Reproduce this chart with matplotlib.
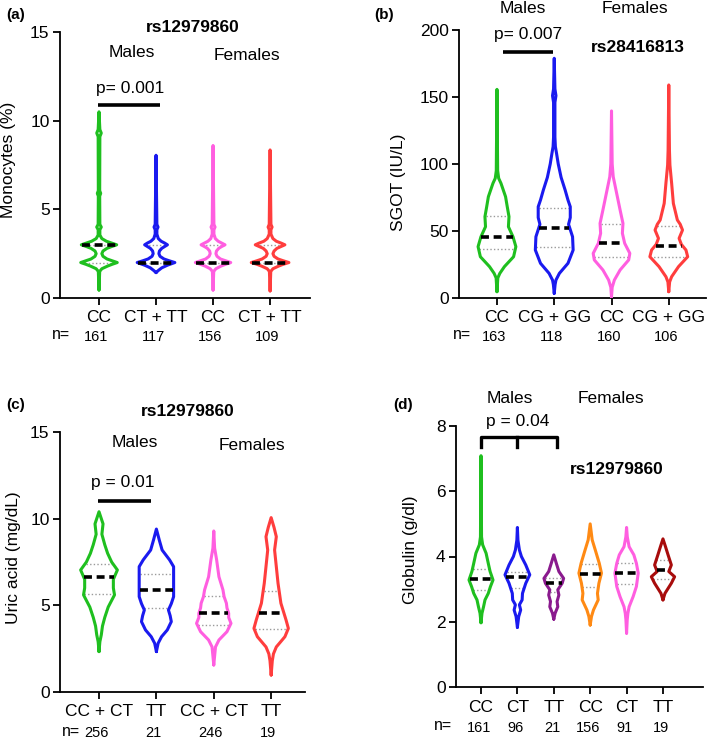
import numpy as np
import matplotlib
matplotlib.use("Agg")
from matplotlib import pyplot as plt

plt.rcParams["font.family"] = ["Liberation Sans", "DejaVu Sans"]

# ---- panel (a): monocytes, rs12979860 ----
a_labels = ["CC", "CT + TT", "CC", "CT + TT"]
a_n = [161, 117, 156, 109]
a_median = [3.0, 2.0, 2.0, 2.0]
a_q1 = [2.0, 2.0, 2.0, 2.0]
a_q3 = [3.0, 3.0, 3.0, 3.0]
a_profiles = [
    [(0.45, 0), (1.5, 0.012), (1.65, 0.05), (1.8, 0.15), (1.9, 0.23), (2.0, 0.32), (2.1, 0.23), (2.2, 0.14),
     (2.35, 0.07), (2.5, 0.05), (2.65, 0.07), (2.8, 0.14), (2.9, 0.22), (3.0, 0.31), (3.1, 0.22), (3.2, 0.13),
     (3.35, 0.05), (3.55, 0.015), (3.85, 0.015), (4.0, 0.04), (4.15, 0.015), (5.75, 0.012), (5.9, 0.03),
     (6.05, 0.012), (9.1, 0.015), (9.3, 0.04), (9.5, 0.015), (10.5, 0)],
    [(1.43, 0), (1.55, 0.04), (1.7, 0.1), (1.85, 0.2), (2.0, 0.33), (2.1, 0.23), (2.2, 0.14), (2.35, 0.07),
     (2.5, 0.05), (2.65, 0.06), (2.8, 0.1), (2.9, 0.15), (3.0, 0.2), (3.1, 0.15), (3.2, 0.09), (3.35, 0.04),
     (3.6, 0.015), (3.85, 0.015), (4.0, 0.035), (4.15, 0.015), (8.05, 0)],
    [(0.45, 0), (1.5, 0.012), (1.65, 0.05), (1.8, 0.14), (1.9, 0.22), (2.0, 0.31), (2.1, 0.22), (2.2, 0.13),
     (2.35, 0.07), (2.5, 0.05), (2.65, 0.06), (2.8, 0.1), (2.9, 0.15), (3.0, 0.21), (3.1, 0.15), (3.2, 0.09),
     (3.35, 0.04), (3.6, 0.015), (3.85, 0.015), (4.0, 0.035), (4.15, 0.015), (8.6, 0)],
    [(0.4, 0), (1.5, 0.012), (1.65, 0.05), (1.8, 0.15), (1.9, 0.23), (2.0, 0.33), (2.1, 0.23), (2.2, 0.14),
     (2.35, 0.07), (2.5, 0.05), (2.65, 0.07), (2.8, 0.12), (2.9, 0.19), (3.0, 0.26), (3.1, 0.19), (3.2, 0.11),
     (3.35, 0.05), (3.6, 0.015), (3.85, 0.015), (4.0, 0.035), (4.15, 0.015), (8.35, 0)],
]

# ---- panel (b): SGOT, rs28416813 ----
b_labels = ["CC", "CG + GG", "CC", "CG + GG"]
b_n = [163, 118, 160, 106]
b_median = [45.3, 52.0, 40.8, 39.1]
b_q1 = [36.8, 38.3, 30.8, 30.8]
b_q3 = [61.4, 66.9, 55.2, 53.7]
b_profiles = [
    [(4.7, 0), (15, 0.015), (18.4, 0.05), (23.4, 0.13), (30.8, 0.29), (38.3, 0.33), (45.7, 0.28), (53.2, 0.2),
     (60.7, 0.21), (68, 0.18), (75.6, 0.15), (85.6, 0.07), (89.3, 0.03), (95, 0.012), (155.7, 0)],
    [(3.5, 0), (10, 0.015), (13.4, 0.03), (18.4, 0.09), (25.9, 0.24), (35.8, 0.33), (45.7, 0.32), (55, 0.25),
     (60, 0.28), (68.1, 0.28), (73.1, 0.24), (80.6, 0.19), (90, 0.12), (100, 0.07), (108, 0.04), (113, 0.02),
     (120, 0.012), (146, 0.012), (151, 0.03), (156, 0.012), (178.9, 0)],
    [(1, 0), (8, 0.012), (13.4, 0.05), (20.9, 0.15), (28.4, 0.3), (33.3, 0.32), (40.8, 0.23), (48.3, 0.19),
     (55.7, 0.2), (65.7, 0.15), (78.1, 0.09), (90.5, 0.03), (100, 0.012), (139.6, 0)],
    [(4.7, 0), (12, 0.015), (15.9, 0.05), (23.4, 0.17), (30.8, 0.33), (35.8, 0.3), (40, 0.22), (44.5, 0.18),
     (50.7, 0.24), (55, 0.2), (58.2, 0.15), (70.6, 0.08), (85.6, 0.05), (99.3, 0.02), (110, 0.012), (159, 0)],
]

# ---- panel (c): uric acid, rs12979860 ----
c_labels = ["CC + CT", "TT", "CC + CT", "TT"]
c_n = [256, 21, 246, 19]
c_median = [6.64, 5.9, 4.54, 4.54]
c_q1 = [5.63, 4.83, 3.87, 3.63]
c_q3 = [7.4, 6.81, 5.54, 5.83]
c_profiles = [
    [(2.33, 0), (2.9, 0.015), (3.3, 0.04), (3.8, 0.06), (4.3, 0.1), (4.9, 0.16), (5.6, 0.27), (6.0, 0.25),
     (6.5, 0.25), (7.04, 0.32), (7.5, 0.22), (8.0, 0.15), (8.5, 0.1), (9.1, 0.05), (9.7, 0.07), (10.4, 0)],
    [(2.33, 0), (2.81, 0.03), (3.19, 0.09), (3.58, 0.19), (4.06, 0.26), (4.4, 0.24), (4.73, 0.21), (5.1, 0.26),
     (5.5, 0.3), (6.4, 0.3), (7.23, 0.3), (7.62, 0.23), (8.19, 0.1), (8.77, 0.05), (9.4, 0)],
    [(1.56, 0), (2.6, 0.03), (3.0, 0.09), (3.48, 0.23), (3.96, 0.3), (4.3, 0.26), (4.54, 0.26), (4.85, 0.23),
     (5.12, 0.22), (5.5, 0.18), (5.89, 0.16), (6.65, 0.09), (7.62, 0.05), (8.3, 0.015), (9.29, 0)],
    [(0.98, 0), (1.8, 0.02), (2.2, 0.04), (2.6, 0.09), (3.19, 0.24), (3.67, 0.3), (4.15, 0.26), (5.12, 0.17),
     (6.27, 0.12), (7.23, 0.09), (8.19, 0.06), (8.96, 0.09), (9.5, 0.05), (10.06, 0)],
]

# ---- panel (d): globulin, rs12979860 ----
d_labels = ["CC", "CT", "TT", "CC", "CT", "TT"]
d_n = [161, 96, 21, 156, 91, 19]
d_median = [3.32, 3.38, 3.18, 3.46, 3.49, 3.59]
d_q1 = [2.98, 3.04, 2.92, 3.08, 3.15, 3.3]
d_q3 = [3.63, 3.53, 3.35, 3.78, 3.81, 3.88]
d_profiles = [
    [(1.97, 0), (2.26, 0.027), (2.46, 0.07), (2.67, 0.11), (2.87, 0.2), (3.08, 0.26), (3.28, 0.33), (3.54, 0.25),
     (3.79, 0.2), (4.1, 0.14), (4.36, 0.045), (4.6, 0.015), (7.09, 0)],
    [(1.83, 0), (2.16, 0.036), (2.36, 0.09), (2.52, 0.055), (2.67, 0.13), (2.87, 0.14), (3.18, 0.23),
     (3.44, 0.34), (3.74, 0.23), (4.0, 0.11), (4.2, 0.055), (4.5, 0.015), (4.89, 0)],
    [(2.08, 0), (2.26, 0.036), (2.46, 0.11), (2.62, 0.09), (2.82, 0.14), (2.98, 0.11), (3.18, 0.23),
     (3.33, 0.27), (3.54, 0.14), (3.79, 0.07), (4.05, 0)],
    [(1.9, 0), (2.16, 0.036), (2.36, 0.09), (2.67, 0.22), (2.87, 0.2), (3.18, 0.24), (3.49, 0.31), (3.79, 0.25),
     (4.2, 0.14), (4.51, 0.055), (5.0, 0)],
    [(1.65, 0), (2.06, 0.018), (2.26, 0.036), (2.46, 0.07), (2.77, 0.18), (3.08, 0.27), (3.49, 0.32),
     (3.79, 0.27), (4.05, 0.2), (4.3, 0.07), (4.6, 0.02), (4.89, 0)],
    [(2.67, 0), (2.87, 0.055), (3.18, 0.23), (3.38, 0.32), (3.54, 0.16), (3.74, 0.23), (4.05, 0.14),
     (4.3, 0.07), (4.54, 0)],
]

GREEN, BLUE, PINK, RED = "#1fbf1f", "#1a1aef", "#ff5ee0", "#ff3d3d"
ORANGE, PURPLE, DARKRED = "#ff8a14", "#8a1a8e", "#a80c0c"
FS = 12.5


def draw_violin(ax, x, profile, color, med, q1, q3):
    prof = np.array(profile, dtype=float)
    ys, ws = prof[:, 0], prof[:, 1]
    xs = np.concatenate([x - ws, (x + ws)[::-1]])
    yy = np.concatenate([ys, ys[::-1]])
    ax.plot(xs, yy, color=color, lw=2.2, solid_joinstyle="round", solid_capstyle="round", zorder=3)
    for q in (q1, q3):
        w = np.interp(q, ys, ws) - 0.01
        ax.plot([x - w, x + w], [q, q], color="#9a9a9a", lw=1.0, ls=(0, (1, 1.6)), zorder=2)
    w = np.interp(med, ys, ws) - 0.01
    ax.plot([x - w, x + w], [med, med], color="black", lw=2.6, ls=(0, (2.2, 1.3)), zorder=4)


def setup(ax, labels, ncounts, nfrac, ypos_n, ticks, ylim, xlim):
    pos = np.arange(1, len(labels) + 1)
    ax.set_xlim(*xlim)
    ax.set_ylim(*ylim)
    ax.set_yticks(ticks)
    ax.set_xticks(pos)
    ax.set_xticklabels(labels)
    for s in ("top", "right"):
        ax.spines[s].set_visible(False)
    for s in ("left", "bottom"):
        ax.spines[s].set_linewidth(1.3)
    ax.tick_params(axis="both", length=5, width=1.3, labelsize=FS, pad=2.5)
    ax.tick_params(axis="x", pad=4)
    tr = ax.get_xaxis_transform()
    for p, n in zip(pos, ncounts):
        ax.text(p - 0.05, nfrac, str(n), transform=tr, ha="center", va="center", fontsize=10.5, clip_on=False)
    ax.text(ypos_n, nfrac + 0.008, "n=", transform=tr, ha="center", va="center", fontsize=11.5, clip_on=False)
    return pos


fig = plt.figure(figsize=(7.09, 7.40), dpi=100)
ax_a = fig.add_axes([60 / 709, 1 - 298 / 740, 250 / 709, 266 / 740])
ax_b = fig.add_axes([459 / 709, 1 - 298 / 740, 247 / 709, 268 / 740])
ax_c = fig.add_axes([60 / 709, 1 - 692 / 740, 245 / 709, 260 / 740])
ax_d = fig.add_axes([456 / 709, 1 - 687 / 740, 247 / 709, 261 / 740])

# (a)
pos = setup(ax_a, a_labels, a_n, -0.147, 0.33, [0, 5, 10, 15], (0, 15), (0.316, 4.70))
for p, prof, col, m, lo, hi in zip(pos, a_profiles, [GREEN, BLUE, PINK, RED], a_median, a_q1, a_q3):
    draw_violin(ax_a, p, prof, col, m, lo, hi)
ax_a.plot([0.98, 2.07], [10.9, 10.9], color="black", lw=2.6, solid_capstyle="butt")
ax_a.text(1.54, 11.84, "p= 0.001", ha="center", va="center", fontsize=FS)
ax_a.text(1.58, 13.87, "Males", ha="center", va="center", fontsize=FS)
ax_a.text(3.6, 13.7, "Females", ha="center", va="center", fontsize=FS)
ax_a.text(2.65, 15.28, "rs12979860", ha="center", va="center", fontsize=FS, fontweight="bold", clip_on=False)

# (b)
pos = setup(ax_b, b_labels, b_n, -0.146, 0.39, [0, 50, 100, 150, 200], (0, 200), (0.337, 4.65))
for p, prof, col, m, lo, hi in zip(pos, b_profiles, [GREEN, BLUE, PINK, RED], b_median, b_q1, b_q3):
    draw_violin(ax_b, p, prof, col, m, lo, hi)
ax_b.plot([1.1, 1.98], [183.6, 183.6], color="black", lw=2.6, solid_capstyle="butt")
ax_b.text(1.54, 196.3, "p= 0.007", ha="center", va="center", fontsize=FS, clip_on=False)
ax_b.text(1.45, 216.4, "Males", ha="center", va="center", fontsize=FS, clip_on=False)
ax_b.text(3.41, 216.4, "Females", ha="center", va="center", fontsize=FS, clip_on=False)
ax_b.text(3.46, 187.3, "rs28416813", ha="center", va="center", fontsize=FS, fontweight="bold")

# (c)
pos = setup(ax_c, c_labels, c_n, -0.158, 0.52, [0, 5, 10, 15], (0, 15), (0.32, 4.59))
for p, prof, col, m, lo, hi in zip(pos, c_profiles, [GREEN, BLUE, PINK, RED], c_median, c_q1, c_q3):
    draw_violin(ax_c, p, prof, col, m, lo, hi)
ax_c.plot([0.98, 1.9], [11.0, 11.0], color="black", lw=2.6, solid_capstyle="butt")
ax_c.text(1.41, 12.06, "p = 0.01", ha="center", va="center", fontsize=FS)
ax_c.text(1.62, 14.37, "Males", ha="center", va="center", fontsize=FS)
ax_c.text(3.66, 14.2, "Females", ha="center", va="center", fontsize=FS)
ax_c.text(2.55, 16.16, "rs12979860", ha="center", va="center", fontsize=FS, fontweight="bold", clip_on=False)

# (d)
pos = setup(ax_d, d_labels, d_n, -0.157, -0.04, [0, 2, 4, 6, 8], (0, 8), (0.313, 7.1))
d_colors = [GREEN, BLUE, PURPLE, ORANGE, PINK, DARKRED]
for p, prof, col, m, lo, hi in zip(pos, d_profiles, d_colors, d_median, d_q1, d_q3):
    draw_violin(ax_d, p, prof, col, m, lo, hi)
ax_d.plot([1.0, 1.0, 3.1, 3.1], [7.35, 7.67, 7.67, 7.35], color="black", lw=2.4, clip_on=False)
ax_d.plot([2.0, 2.0], [7.67, 7.35], color="black", lw=2.4)
ax_d.text(2.0, 8.13, "p = 0.04", ha="center", va="center", fontsize=FS, clip_on=False)
ax_d.text(1.79, 8.83, "Males", ha="center", va="center", fontsize=FS, clip_on=False)
ax_d.text(4.58, 8.83, "Females", ha="center", va="center", fontsize=FS, clip_on=False)
ax_d.text(4.74, 6.66, "rs12979860", ha="center", va="center", fontsize=FS, fontweight="bold")

# y labels and panel letters
fig.text(9 / 709, 1 - 160 / 740, "Monocytes (%)", rotation=90, ha="center", va="center", fontsize=FS)
fig.text(399 / 709, 1 - 182 / 740, "SGOT (IU/L)", rotation=90, ha="center", va="center", fontsize=FS)
fig.text(14 / 709, 1 - 558 / 740, "Uric acid (mg/dL)", rotation=90, ha="center", va="center", fontsize=FS)
fig.text(410 / 709, 1 - 550 / 740, "Globulin (g/dl)", rotation=90, ha="center", va="center", fontsize=FS)
for lbl, px, py in [("(a)", 16, 15), ("(b)", 384, 15), ("(c)", 16, 405), ("(d)", 403, 405)]:
    fig.text(px / 709, 1 - py / 740, lbl, ha="center", va="center", fontsize=11, fontweight="bold")

plt.savefig("out.png", dpi=100)
